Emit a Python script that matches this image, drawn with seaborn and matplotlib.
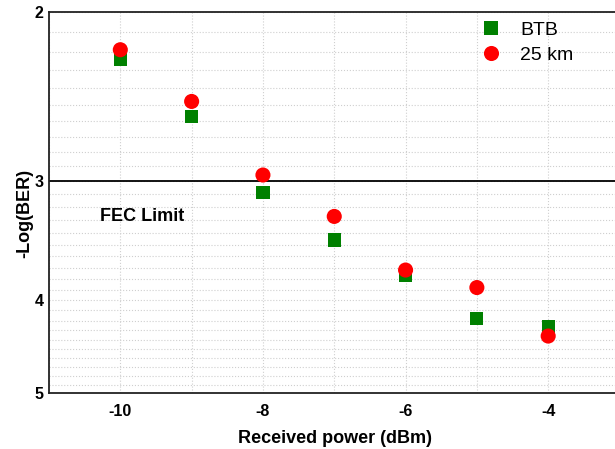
import numpy as np
import pandas as pd
import seaborn as sns
import matplotlib
matplotlib.use("Agg")
import matplotlib.pyplot as plt
from matplotlib.ticker import FixedLocator, NullFormatter, FixedFormatter

# Data
power = [-10, -9, -8, -7, -6, -5, -4]
btb = [2.24, 2.57, 3.09, 3.46, 3.77, 4.18, 4.26]
km25 = [2.19, 2.48, 2.96, 3.27, 3.72, 3.88, 4.36]
series_names = ["BTB", "25 km"]
x_ticks = [-10, -8, -6, -4]
y_ticks = [2, 3, 4, 5]
fec_limit = 3.0

df = pd.DataFrame({
    "power": power * 2,
    "ber": btb + km25,
    "series": [series_names[0]] * len(power) + [series_names[1]] * len(power),
})

sns.set_style("white")
plt.rcParams['font.family'] = ['Liberation Sans', 'DejaVu Sans']
plt.rcParams['text.color'] = 'black'
plt.rcParams['axes.labelcolor'] = 'black'
plt.rcParams['xtick.color'] = 'black'
plt.rcParams['ytick.color'] = 'black'

fig = plt.figure(figsize=(6.15, 4.49), dpi=100)
ax = fig.add_axes([49 / 615, 1 - 393 / 449, (619.5 - 49) / 615, (393 - 12) / 449])

ax.set_yscale("log")
sns.scatterplot(data=df, x="power", y="ber", hue="series", style="series", size="series",
                markers={"BTB": "s", "25 km": "o"},
                palette={"BTB": "#008000", "25 km": "#ff0000"},
                sizes={"BTB": 90, "25 km": 118},
                linewidth=0, ax=ax, legend=True, zorder=3)

ax.set_xlim(-11, -3)
ax.set_ylim(5, 2)

ax.xaxis.set_major_locator(FixedLocator(x_ticks))
ax.xaxis.set_minor_locator(FixedLocator([-11, -9, -7, -5, -3]))
ax.xaxis.set_major_formatter(FixedFormatter([str(t) for t in x_ticks]))
ax.yaxis.set_major_locator(FixedLocator(y_ticks))
ax.yaxis.set_major_formatter(FixedFormatter([str(t) for t in y_ticks]))
minor_y = [round(v, 1) for v in np.arange(2.1, 5.0, 0.1) if abs(v - round(v)) > 1e-6]
ax.yaxis.set_minor_locator(FixedLocator(minor_y))
ax.yaxis.set_minor_formatter(NullFormatter())

ax.grid(True, which="both", color="#cfcfcf", linestyle=":", linewidth=0.8)
ax.set_axisbelow(True)

ax.tick_params(which="major", direction="in", length=6, width=1.2, labelsize=11.5)
ax.tick_params(axis="x", which="major", pad=8)
ax.tick_params(axis="y", which="major", pad=4)
ax.tick_params(which="minor", direction="in", length=3.5, width=1.0)
for lbl in ax.get_xticklabels() + ax.get_yticklabels():
    lbl.set_fontweight("bold")

for side in ["left", "bottom", "top", "right"]:
    ax.spines[side].set_color("#222222")
    ax.spines[side].set_linewidth(1.3)

ax.axhline(fec_limit, color="black", linewidth=1.3, zorder=2)
ax.text(-10.28, 3.27, "FEC Limit", fontsize=13, fontweight="bold", va="center", ha="left")

ax.set_xlabel("Received power (dBm)", fontsize=13, fontweight="bold")
ax.xaxis.set_label_coords((334.5 - 49) / 570.5, (393 - 430) / 381)
ax.set_ylabel("-Log(BER)", fontsize=13, fontweight="bold")
ax.yaxis.set_label_coords((33.5 - 49) / 570.5, (393 - 213) / 381)

ax.legend(title=None, frameon=False, fontsize=14, loc="upper left",
          bbox_to_anchor=(481.3 / 615, 1 - 21 / 449), bbox_transform=fig.transFigure,
          borderpad=0, borderaxespad=0, handlelength=1.0, handletextpad=1.0,
          labelspacing=0.4, markerscale=1.0)

fig.savefig("out.png", dpi=100)
